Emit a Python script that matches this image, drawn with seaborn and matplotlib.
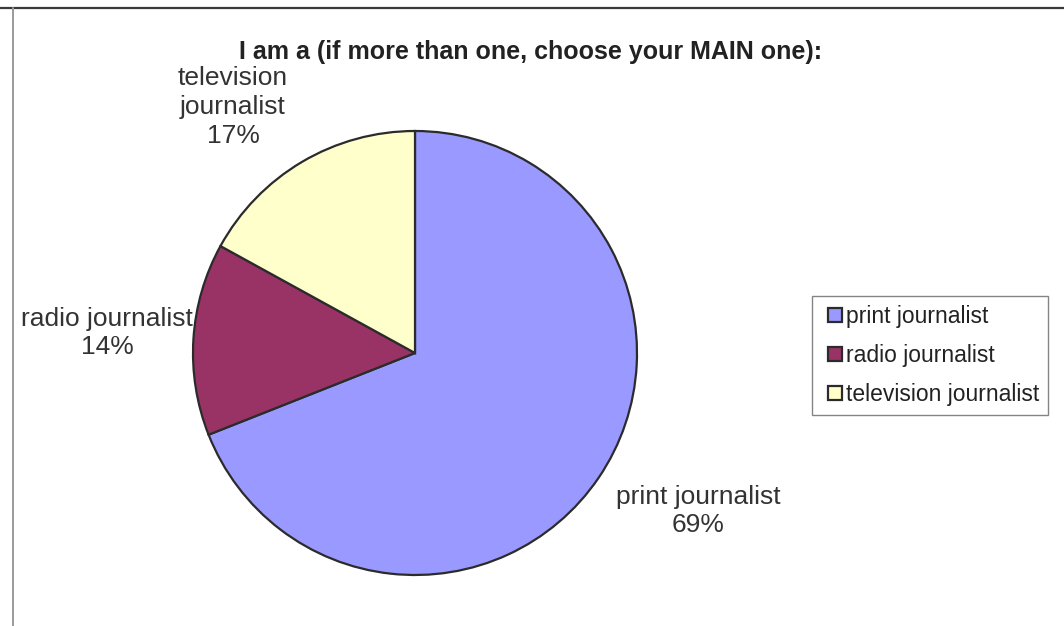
import matplotlib
matplotlib.use("Agg")
import matplotlib.pyplot as plt
from matplotlib.lines import Line2D
import seaborn as sns

# Survey answers: "I am a (if more than one, choose your MAIN one):"
categories = ["print journalist", "radio journalist", "television journalist"]
shares = [69, 14, 17]
pie_labels = ["print journalist\n69%", "radio journalist\n14%", "television\njournalist\n17%"]
title = "I am a (if more than one, choose your MAIN one):"

sns.set_theme(style="white")
plt.rcParams["font.family"] = ["Liberation Sans", "DejaVu Sans"]

colors = ["#9999FF", "#993366", "#FFFFCC"]
edge = "#2b2b2b"

W, H = 1064, 626
fig = plt.figure(figsize=(W / 100, H / 100), dpi=100)
ax = fig.add_axes([0, 0, 1, 1])

# Chart frame (top and left edges)
ax.add_line(Line2D([0, W], [H - 8, H - 8], color="#3a3a3a", lw=1.6))
ax.add_line(Line2D([13, 13], [0, H - 8], color="#9a9a9a", lw=1.4))

cx, cy, r = 415, H - 353, 222
wedges, _ = ax.pie(shares, colors=colors, startangle=90, counterclock=False,
                   center=(cx, cy), radius=r,
                   wedgeprops=dict(edgecolor=edge, linewidth=1.6))
ax.set_xlim(0, W)
ax.set_ylim(0, H)
ax.set_aspect("equal")
ax.axis("off")

label_pos = [(698, H - 511), (107, H - 333), (233, H - 107)]
for txt, (x, y) in zip(pie_labels, label_pos):
    ax.text(x, y, txt, ha="center", va="center", fontsize=19,
            color="#333333", linespacing=1.25)

ax.text(531, H - 52, title, ha="center", va="center", fontsize=18,
        fontweight="bold", color="#222222")

handles = [Line2D([], [], linestyle="none", marker="s", markersize=9.4,
                  markerfacecolor=c, markeredgecolor=edge, markeredgewidth=1.6)
           for c in colors]
leg = ax.legend(handles, categories, loc="upper left",
                bbox_to_anchor=(812 / W, 1 - 296 / H), fontsize=16.5,
                frameon=True, fancybox=False, handlelength=1.18,
                handletextpad=-0.1, labelspacing=0.7, borderpad=0.4,
                borderaxespad=0)
leg.get_frame().set_edgecolor("#666666")
leg.get_frame().set_linewidth(1.0)
for t in leg.get_texts():
    t.set_color("#222222")

fig.savefig("out.png", dpi=100)
